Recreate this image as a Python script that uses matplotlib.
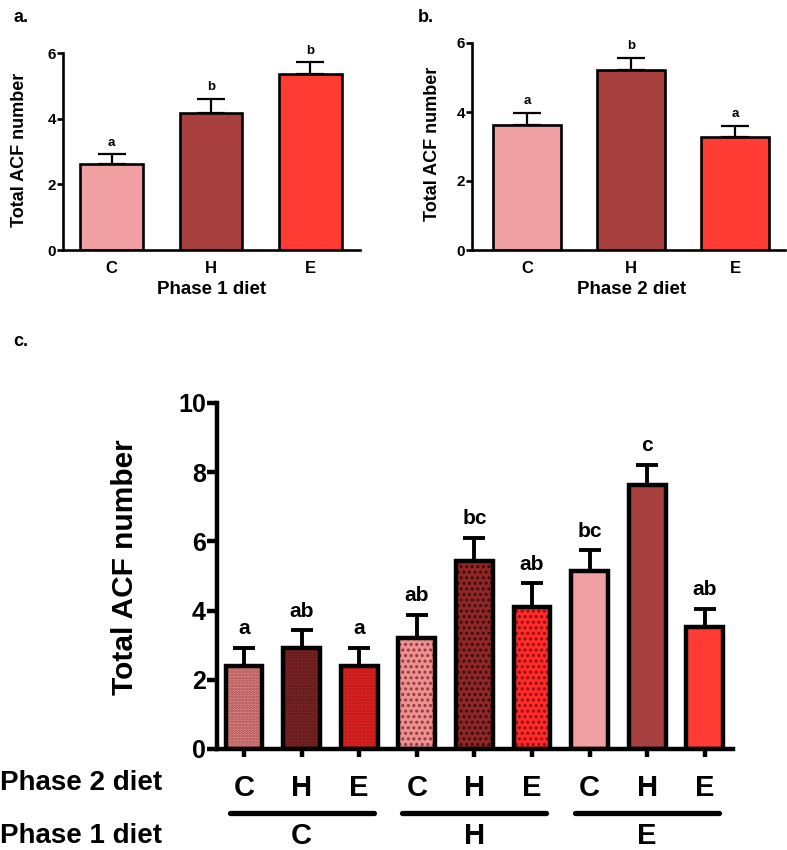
import matplotlib
matplotlib.use("Agg")
import matplotlib.pyplot as plt
import matplotlib.transforms as mtransforms

plt.rcParams['font.family'] = ['Liberation Sans', 'DejaVu Sans']
plt.rcParams['font.weight'] = 'bold'
plt.rcParams['hatch.linewidth'] = 1.4

# ---- data ----
diets = ['C', 'H', 'E']

# panel a: by phase 1 diet
p1_mean = [2.62, 4.17, 5.36]
p1_err = [0.30, 0.43, 0.36]
p1_sig = ['a', 'b', 'b']

# panel b: by phase 2 diet
p2_mean = [3.62, 5.22, 3.27]
p2_err = [0.35, 0.35, 0.33]
p2_sig = ['a', 'b', 'a']

# panel c: phase 1 x phase 2
c_phase1 = ['C', 'C', 'C', 'H', 'H', 'H', 'E', 'E', 'E']
c_phase2 = ['C', 'H', 'E', 'C', 'H', 'E', 'C', 'H', 'E']
c_mean = [2.40, 2.93, 2.40, 3.20, 5.43, 4.09, 5.14, 7.63, 3.52]
c_err = [0.53, 0.50, 0.53, 0.67, 0.68, 0.70, 0.60, 0.58, 0.53]
c_sig = ['a', 'ab', 'a', 'ab', 'bc', 'ab', 'bc', 'c', 'ab']

plain = {'C': '#F0A0A2', 'H': '#A84040', 'E': '#FF3B33'}
# phase-1 C group: fine dots, phase-1 H group: coarser marks
face_c = {'C': '#EC9496', 'H': '#922E2E', 'E': '#FF2C2C'}
dots_c = {'C': '#9A4444', 'H': '#4A1010', 'E': '#9A1010'}
face_h = {'C': '#EE9092', 'H': '#8E2828', 'E': '#FF2A2A'}
dots_h = {'C': '#8A3A3A', 'H': '#3E0A0A', 'E': '#8E0E0E'}

W, H = 787, 850
fig = plt.figure(figsize=(W / 100, H / 100), dpi=100)


def px_axes(x0, x1, y_bot, y_top):
    return fig.add_axes([x0 / W, 1 - y_bot / H, (x1 - x0) / W, (y_bot - y_top) / H])


def style_axes(ax, lw, ticklen, tickfs):
    for s in ['top', 'right']:
        ax.spines[s].set_visible(False)
    for s in ['left', 'bottom']:
        ax.spines[s].set_linewidth(lw)
    ax.tick_params(axis='y', width=lw, length=ticklen, labelsize=tickfs, pad=1)


def small_panel(ax, means, errs, sig, width):
    x = range(len(means))
    ax.bar(x, means, width=width, color=[plain[d] for d in diets],
           edgecolor='black', linewidth=1.9, zorder=2)
    ax.errorbar(x, means, yerr=[[0] * len(errs), errs], fmt='none', ecolor='black',
                elinewidth=1.6, capsize=10, capthick=1.6, zorder=1)
    for xi, m, e, s in zip(x, means, errs, sig):
        ax.annotate(s, (xi, m + e), xytext=(0, 4), textcoords='offset points',
                    ha='center', va='bottom', fontsize=9.5, fontweight='bold')
    ax.set_ylim(0, 6)
    ax.set_yticks([0, 2, 4, 6])
    ax.set_xticks(list(x))
    ax.set_xticklabels(diets, fontsize=12, fontweight='bold')
    ax.tick_params(axis='x', length=0, pad=8)
    style_axes(ax, 1.9, 4, 11)


# ---- panel a ----
ax_a = px_axes(63, 360, 250, 53)
small_panel(ax_a, p1_mean, p1_err, p1_sig, 0.63)
ax_a.set_xlim(-0.49, 2.5)
fig.text(20 / W, 1 - 150 / H, 'Total ACF number', rotation=90, ha='center', va='center',
         fontsize=13, fontweight='bold')
fig.text(212 / W, 1 - 290 / H, 'Phase 1 diet', ha='center', va='center',
         fontsize=13.5, fontweight='bold')
fig.text(13 / W, 1 - 17 / H, 'a.', ha='left', va='center', fontsize=13, fontweight='bold')

# ---- panel b ----
ax_b = px_axes(472, 785, 250, 43)
small_panel(ax_b, p2_mean, p2_err, p2_sig, 0.65)
ax_b.set_xlim(-0.53, 2.48)
fig.text(432 / W, 1 - 144 / H, 'Total ACF number', rotation=90, ha='center', va='center',
         fontsize=13, fontweight='bold')
fig.text(632 / W, 1 - 290 / H, 'Phase 2 diet', ha='center', va='center',
         fontsize=13.5, fontweight='bold')
fig.text(418 / W, 1 - 17 / H, 'b.', ha='left', va='center', fontsize=13, fontweight='bold')

# ---- panel c ----
ax_c = px_axes(217, 733, 749, 403)
xc = list(range(len(c_mean)))
bw = 0.64
for xi, p1, p2, m in zip(xc, c_phase1, c_phase2, c_mean):
    if p1 == 'C':
        ax_c.bar(xi, m, width=bw, color=face_c[p2], hatch='......',
                 edgecolor=dots_c[p2], linewidth=0, zorder=2)
    elif p1 == 'H':
        ax_c.bar(xi, m, width=bw, color=face_h[p2], hatch='...',
                 edgecolor=dots_h[p2], linewidth=0, zorder=2)
    else:
        ax_c.bar(xi, m, width=bw, color=plain[p2], linewidth=0, zorder=2)
ax_c.bar(xc, c_mean, width=bw, fill=False, edgecolor='black', linewidth=3.2, zorder=3)
ax_c.errorbar(xc, c_mean, yerr=[[0] * len(c_err), c_err], fmt='none', ecolor='black',
              elinewidth=2.8, capsize=8, capthick=2.8, zorder=1)
for xi, m, e, s in zip(xc, c_mean, c_err, c_sig):
    ax_c.annotate(s, (xi, m + e), xytext=(0, 7), textcoords='offset points',
                  ha='center', va='bottom', fontsize=15, fontweight='bold')
ax_c.set_ylim(0, 10)
ax_c.set_yticks([0, 2, 4, 6, 8, 10])
ax_c.set_xlim(-0.47, 8.49)
ax_c.set_xticks(xc)
ax_c.set_xticklabels(c_phase2, fontsize=21, fontweight='bold')
ax_c.tick_params(axis='x', width=3.2, length=6, pad=12)
style_axes(ax_c, 3.2, 7, 18)

fig.text(125 / W, 1 - 567 / H, 'Total ACF number', rotation=90, ha='center', va='center',
         fontsize=21.5, fontweight='bold')
fig.text(0, 1 - 783 / H, 'Phase 2 diet', ha='left', va='center', fontsize=20, fontweight='bold')
fig.text(0, 1 - 836 / H, 'Phase 1 diet', ha='left', va='center', fontsize=20, fontweight='bold')
fig.text(13 / W, 1 - 342 / H, 'c.', ha='left', va='center', fontsize=13, fontweight='bold')

# group lines and phase-1 labels under the x axis
trans = mtransforms.blended_transform_factory(ax_c.transData, fig.transFigure)
for g, d in enumerate(diets):
    lo, hi = 3 * g - 0.25, 3 * g + 2.25
    ax_c.plot([lo, hi], [1 - 813 / H] * 2, color='black', lw=3.8,
              solid_capstyle='round', transform=trans, clip_on=False)
    ax_c.text(3 * g + 1, 1 - 836 / H, d, transform=trans, ha='center', va='center',
              fontsize=21, fontweight='bold')

fig.savefig('out.png', dpi=100)
